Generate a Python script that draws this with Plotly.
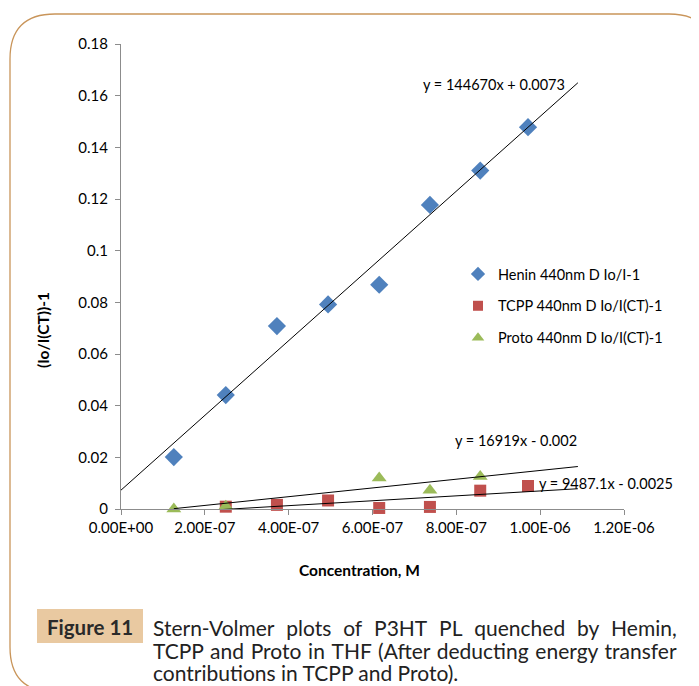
import numpy as np
import plotly.graph_objects as go

# ---------------- data ----------------
henin_x = [1.26e-7, 2.50e-7, 3.72e-7, 4.94e-7, 6.16e-7, 7.37e-7, 8.57e-7, 9.71e-7]
henin_y = [0.0201, 0.0441, 0.0708, 0.0792, 0.0868, 0.1177, 0.1310, 0.1478]

tcpp_x = [2.50e-7, 3.72e-7, 4.94e-7, 6.16e-7, 7.37e-7, 8.57e-7, 9.71e-7]
tcpp_y = [0.0009, 0.0016, 0.0033, 0.0004, 0.0008, 0.0071, 0.0089]

proto_x = [1.26e-7, 2.50e-7, 6.16e-7, 7.37e-7, 8.57e-7]
proto_y = [0.0000, 0.0011, 0.0120, 0.0073, 0.0126]

# trendline equations (slope, intercept) and drawn x extents
fit_slope = [144670.0, 9487.1, 16919.0]
fit_intercept = [0.0073, -0.0025, -0.002]
fit_x_start = [0.0, 1.26e-7, 1.26e-7]
fit_x_end = [1.09e-6, 1.09e-6, 1.09e-6]
fit_labels = ["y = 144670x + 0.0073", "y = 9487.1x - 0.0025", "y = 16919x - 0.002"]

x_tick_vals = [0, 2e-7, 4e-7, 6e-7, 8e-7, 1e-6, 1.2e-6]
x_tick_text = ["0.00E+00", "2.00E-07", "4.00E-07", "6.00E-07", "8.00E-07", "1.00E-06", "1.20E-06"]
y_tick_vals = [0, 0.02, 0.04, 0.06, 0.08, 0.1, 0.12, 0.14, 0.16, 0.18]
y_tick_text = ["0", "0.02", "0.04", "0.06", "0.08", "0.1", "0.12", "0.14", "0.16", "0.18"]

series_names = ["Henin 440nm D Io/I-1", "TCPP 440nm D Io/I(CT)-1", "Proto 440nm D Io/I(CT)-1"]
x_title = "Concentration, M"
y_title = "(Io/I(CT))-1"

caption_label = "Figure 11"
caption_lines = [
    "Stern-Volmer plots of P3HT PL quenched by Hemin,",
    "TCPP and Proto in THF (After deducting energy transfer",
    "contributions in TCPP and Proto).",
]

# ---------------- layout geometry ----------------
# the page body has an 8px margin, so the figure is sized to fill the rest
OFF = 8
W, H = 699 - OFF, 686 - OFF
PL, PR, PT, PB = 121, 624, 44, 509          # plot area in window pixels
L, T = PL - OFF, PT - OFF
R, B = W - (PR - OFF), H - (PB - OFF)
PW, PH = PR - PL, PB - PT


def px(xs):
    return (xs - PL) / PW


def py(ys):
    return (PB - ys) / PH


FONT = "Lato, 'Open Sans', sans-serif"

fig = go.Figure()

colors = ["#4f81bd", "#c0504d", "#9bbb59"]
symbols = ["diamond", "square", "triangle-up"]
sizes = [14, 12, 13]
legend_sizes = [11, 10, 11]
xs = [henin_x, tcpp_x, proto_x]
ys = [henin_y, tcpp_y, proto_y]

for i in range(3):
    fig.add_trace(go.Scatter(
        x=xs[i], y=ys[i], mode="markers", name=series_names[i],
        legendgroup=f"g{i}", showlegend=False,
        marker=dict(color=colors[i], symbol=symbols[i], size=sizes[i], line=dict(width=0)),
        cliponaxis=False,
    ))
    # legend entry (smaller marker, as in the original legend)
    fig.add_trace(go.Scatter(
        x=[None], y=[None], mode="markers", name=series_names[i],
        legendgroup=f"g{i}", showlegend=True,
        marker=dict(color=colors[i], symbol=symbols[i], size=legend_sizes[i], line=dict(width=0)),
    ))

for i in range(3):
    lx = np.array([fit_x_start[i], fit_x_end[i]])
    ly = fit_slope[i] * lx + fit_intercept[i]
    fig.add_trace(go.Scatter(
        x=lx, y=ly, mode="lines", showlegend=False,
        line=dict(color="black", width=1), hoverinfo="skip",
    ))

# equation labels
eq_pos = [(494, 85), (606, 483), (516, 440)]
for i in range(3):
    fig.add_annotation(
        x=px(eq_pos[i][0]), y=py(eq_pos[i][1]), xref="paper", yref="paper",
        text=fit_labels[i], showarrow=False, font=dict(family=FONT, size=14.5, color="black"),
        xanchor="center", yanchor="middle",
    )

# axis titles
fig.add_annotation(x=px(359), y=py(570), xref="paper", yref="paper", text=f"<b>{x_title}</b>",
                   showarrow=False, font=dict(family=FONT, size=15.5, color="black"),
                   xanchor="center", yanchor="middle")
fig.add_annotation(x=px(43), y=py(330), xref="paper", yref="paper", text=f"<b>{y_title}</b>",
                   showarrow=False, textangle=-90, font=dict(family=FONT, size=15.5, color="black"),
                   xanchor="center", yanchor="middle")


# border with rounded corners
def corner_path(x0, y0, x1, y1, r):
    pts = []
    pts.append(f"M {px(x0)},{py(y0 + r)}")
    pts.append(f"Q {px(x0)},{py(y0)} {px(x0 + r)},{py(y0)}")
    pts.append(f"L {px(x1 - r)},{py(y0)}")
    pts.append(f"Q {px(x1)},{py(y0)} {px(x1)},{py(y0 + r)}")
    pts.append(f"L {px(x1)},{py(y1 - r)}")
    pts.append(f"Q {px(x1)},{py(y1)} {px(x1 - r)},{py(y1)}")
    pts.append(f"L {px(x0 + r)},{py(y1)}")
    pts.append(f"Q {px(x0)},{py(y1)} {px(x0)},{py(y1 - r)}")
    pts.append("Z")
    return " ".join(pts)


fig.add_shape(type="path", xref="paper", yref="paper",
              path=corner_path(10, 14, 714, 692, 45),
              line=dict(color="#c9955a", width=1.3), layer="below")

# caption label box
fig.add_shape(type="rect", xref="paper", yref="paper",
              x0=px(37), x1=px(143), y0=py(643), y1=py(609),
              fillcolor="#e9c9a1", line=dict(width=0))
fig.add_annotation(x=px(90), y=py(626.5), xref="paper", yref="paper",
                   text=f"<b>{caption_label}</b>", showarrow=False,
                   font=dict(family=FONT, size=20.5, color="#2a2a2a"),
                   xanchor="center", yanchor="middle")
# justified-looking caption: widened word gaps on the first two lines
gaps = ["\u2002\u200a", " \u200a", " "]
for k, line in enumerate(caption_lines):
    fig.add_annotation(x=px(151), y=py(627 + 23 * k), xref="paper", yref="paper",
                       text=line.replace(" ", gaps[k]), showarrow=False,
                       font=dict(family=FONT, size=21, color="#222222"),
                       xanchor="left", yanchor="middle")

fig.update_layout(
    width=W, height=H, autosize=False,
    margin=dict(l=L, r=R, t=T, b=B),
    paper_bgcolor="white", plot_bgcolor="white",
    font=dict(family=FONT, size=15, color="black"),
    showlegend=True,
    legend=dict(x=px(458), y=py(258), xanchor="left", yanchor="top",
                bgcolor="rgba(0,0,0,0)", font=dict(family=FONT, size=14.5, color="black"),
                tracegroupgap=10, itemwidth=30),
    xaxis=dict(range=[0, 1.2e-6], tickvals=x_tick_vals, ticktext=x_tick_text,
               showline=True, linecolor="#8c8c8c", linewidth=1,
               ticks="outside", tickcolor="#8c8c8c", ticklen=5,
               showgrid=False, zeroline=False,
               tickfont=dict(family=FONT, size=15, color="black")),
    yaxis=dict(range=[0, 0.18], tickvals=y_tick_vals, ticktext=y_tick_text,
               showline=True, linecolor="#8c8c8c", linewidth=1,
               ticks="outside", tickcolor="#8c8c8c", ticklen=5, ticklabelstandoff=4,
               showgrid=False, zeroline=False,
               tickfont=dict(family=FONT, size=15, color="black")),
)

fig.write_html("out.html")
